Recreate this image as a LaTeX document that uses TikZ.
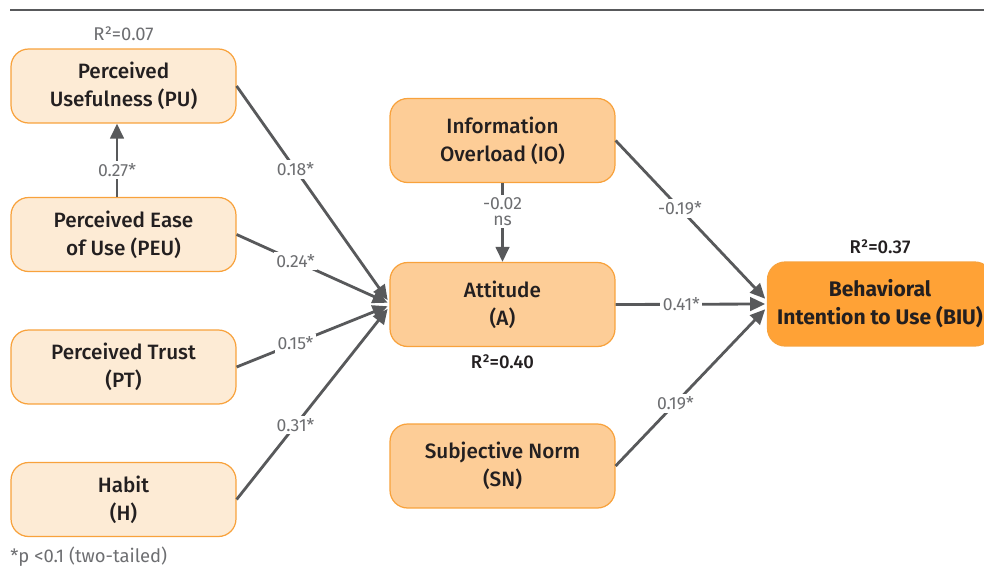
\documentclass[tikz,border=0pt]{standalone}
\usepackage{fontspec}
\setmainfont{Fira Sans}
\newfontfamily\medfont{Fira Sans Medium}
\newfontfamily\lightfont{Fira Sans Light}
\usetikzlibrary{arrows.meta}
\usetikzlibrary{positioning}
\definecolor{boxline}{HTML}{F8A23C}
\definecolor{lightfill}{HTML}{FDEBD5}
\definecolor{midfill}{HTML}{FDCD97}
\definecolor{darkfill}{HTML}{FFA236}
\definecolor{linegray}{HTML}{58595B}
\definecolor{labelgray}{HTML}{6D6E71}
\definecolor{textdark}{HTML}{231F20}
\tikzstyle{construct}=[draw=boxline, line width=0.7pt, rounded corners=10pt, minimum width=4.5cm, align=center, text=textdark, font=\medfont\fontsize{11.8}{16}\selectfont]
\tikzstyle{lightbox}=[construct, fill=lightfill, minimum height=1.48cm]
\tikzstyle{midbox}=[construct, fill=midfill, minimum height=1.68cm]
\tikzstyle{mainbox}=[construct, fill=darkfill, minimum height=1.68cm, font=\bfseries\fontsize{12}{16}\selectfont]
\tikzstyle{link}=[draw=linegray, line width=1.6pt, -{Triangle[length=0.3cm,width=0.27cm]}]
\tikzstyle{weight}=[fill=white, inner sep=1.5pt, text=labelgray, font=\fontsize{10}{11}\selectfont, align=center]
\tikzstyle{rsq}=[inner sep=1pt, font=\fontsize{10.5}{12}\selectfont]

\begin{document}
\begin{tikzpicture}[x=0.02cm, y=-0.02cm]
    \useasboundingbox (0,0) rectangle (984,578);
    \draw[linegray, line width=1.6pt] (10,10) -- (984,10);

    % left column of constructs
    \foreach \pos/\name/\label in {{(123.5,86)/PU/Perceived\\Usefulness (PU)}, {(123.5,234.5)/PEU/Perceived Ease\\of Use (PEU)}, {(123.5,367)/PT/Perceived Trust\\(PT)}, {(123.5,499.5)/H/Habit\\(H)}}
            \node[lightbox] (\name) at \pos {\label};

    % middle column
    \foreach \pos/\name/\label in {{(502.5,140.5)/IO/Information\\Overload (IO)}, {(502.5,304.5)/A/Attitude\\(A)}, {(502.5,466)/SN/Subjective Norm\\(SN)}}
            \node[midbox] (\name) at \pos {\label};

    \node[mainbox] (BIU) at (880,304) {Behavioral\\Intention to Use (BIU)};

    % explained variance
    \node[rsq, text=labelgray, above=3pt of PU] (r2PU) {R²=0.07};
    \node[rsq, text=textdark, font=\medfont\fontsize{10.5}{12}\selectfont, below=3pt of A] (r2A) {R²=0.40};
    \node[rsq, text=textdark, font=\medfont\fontsize{10.5}{12}\selectfont, above=3pt of BIU] (r2BIU) {R²=0.37};

    % paths into attitude
    \foreach \source/\shift/\weight in {PU/2.5/{0.18*}, PEU/1/{0.24*}, PT/-1/{0.15*}, H/-2.5/{0.31*}}
        \draw[link] (\source.east) -- node[weight, pos=0.39] {\weight} ([yshift=\shift pt, xshift=-1pt]A.west);

    \draw[link] ([xshift=-0.13cm]PEU.north) -- node[weight, pos=0.37] {0.27*} ([xshift=-0.13cm]PU.south);
    \draw[link] (IO.south) -- node[weight, pos=0.36] {-0.02\\[-2pt]ns} (A.north);

    % paths into intention
    \foreach \source/\shift/\where/\weight in {IO/3/0.43/{-0.19*}, A/0/0.44/{0.41*}, SN/-3/0.4/{0.19*}}
        \draw[link] (\source.east) -- node[weight, pos=\where] {\weight} ([yshift=\shift pt, xshift=-1pt]BIU.west);

    \node[anchor=west, inner sep=0pt, text=labelgray, font=\fontsize{10.5}{12}\selectfont] (note) at (10,557) {*p <0.1 (two-tailed)};
\end{tikzpicture}
\end{document}
